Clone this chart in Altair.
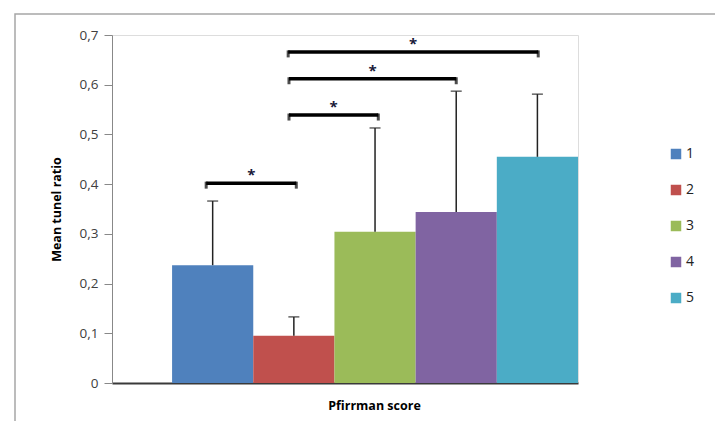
import altair as alt
import pandas as pd

groups = ["1", "2", "3", "4", "5"]
means = [0.237, 0.095, 0.304, 0.344, 0.455]
errors = [0.129, 0.038, 0.209, 0.243, 0.126]
colors = ["#4F81BD", "#C0504D", "#9BBB59", "#8064A2", "#4BACC6"]

# significance brackets (x in bar-position units, y in data units)
br_x1 = [0.92, 1.94, 1.94, 1.93]
br_x2 = [2.03, 3.04, 4.00, 5.01]
br_y = [0.402, 0.539, 0.612, 0.666]
br_label = ["*", "*", "*", "*"]

df = pd.DataFrame({
    "group": groups,
    "pos": [1, 2, 3, 4, 5],
    "mean": means,
    "err": errors,
})
df["x1"] = df["pos"] - 0.5
df["x2"] = df["pos"] + 0.5
df["top"] = df["mean"] + df["err"]

br = pd.DataFrame({"x1": br_x1, "x2": br_x2, "y": br_y, "label": br_label})
br["xm"] = (br["x1"] + br["x2"]) / 2
ends = pd.concat([
    pd.DataFrame({"x": br_x1, "y": br_y}),
    pd.DataFrame({"x": br_x2, "y": br_y}),
])

FONT = "Open Sans"
xscale = alt.Scale(domain=[-0.24, 5.5], nice=False, zero=False, padding=0)
yscale = alt.Scale(domain=[0, 0.7], nice=False, padding=0)

yaxis = alt.Axis(
    values=[0, 0.1, 0.2, 0.3, 0.4, 0.5, 0.6, 0.7],
    labelExpr="datum.value == 0 ? '0' : replace(format(datum.value, '.1f'), '.', ',')",
    grid=False, tickSize=8, tickColor="#888888", domainColor="#888888",
    labelFontSize=13.5, labelColor="#404040", labelPadding=6, labelFont=FONT,
    title="Mean tunel ratio", titleFontSize=12.5, titleFont=FONT, titleFontWeight="bold",
    titleColor="#000000", titlePadding=16,
)
xaxis = alt.Axis(
    labels=False, ticks=False, grid=False, domainColor="#3a3a3a", domainWidth=2,
    title="Pfirrman score", titleFontSize=12.5, titleFont=FONT, titleFontWeight="bold",
    titleColor="#000000", titleX=262, titleY=16, titleAlign="center",
)

bars = alt.Chart(df).mark_bar(clip=False).encode(
    x=alt.X("x1:Q", scale=xscale, axis=xaxis),
    x2="x2:Q",
    y=alt.Y("mean:Q", scale=yscale, axis=yaxis),
    y2=alt.datum(0),
    color=alt.Color("group:N", scale=alt.Scale(domain=groups, range=colors),
                    legend=alt.Legend(title=None, orient="none", legendX=557, legendY=112,
                                      symbolType="square", symbolSize=110, symbolStrokeWidth=0,
                                      labelFontSize=14, labelFont=FONT, labelColor="#222222",
                                      rowPadding=22, labelOffset=3)),
)

err_line = alt.Chart(df).mark_rule(color="#222222", strokeWidth=1.5).encode(
    x="pos:Q", y="mean:Q", y2="top:Q"
)
err_cap = alt.Chart(df).mark_tick(color="#222222", orient="horizontal", size=11, thickness=1.5).encode(
    x="pos:Q", y="top:Q"
)

br_line = alt.Chart(br).mark_rule(color="#000000", strokeWidth=3.5).encode(
    x="x1:Q", x2="x2:Q", y="y:Q"
)
br_end = alt.Chart(ends).mark_tick(color="#000000", orient="vertical", size=7, thickness=3, yOffset=2).encode(
    x="x:Q", y="y:Q"
)
br_txt = alt.Chart(br).mark_text(fontSize=15, fontWeight="bold", font=FONT, color="#1a1a3a", dy=-8).encode(
    x="xm:Q", y="y:Q", text="label:N"
)

frame = alt.Chart(pd.DataFrame({"a": [0]})).mark_rect(
    fill=None, stroke="#a6a6a6", strokeWidth=1.5, clip=False
).encode(
    x=alt.value(-97), x2=alt.value(604), y=alt.value(-21), y2=alt.value(420)
)

chart = alt.layer(frame, bars, err_line, err_cap, br_line, br_end, br_txt).properties(
    width=466, height=348,
    padding={"left": 104, "top": 27, "right": 137, "bottom": 38},
    autosize=alt.AutoSizeParams(type="none"),
).configure_view(stroke=None).configure(background="white")

chart.save("out.html", embed_options={"renderer": "svg", "actions": False})
